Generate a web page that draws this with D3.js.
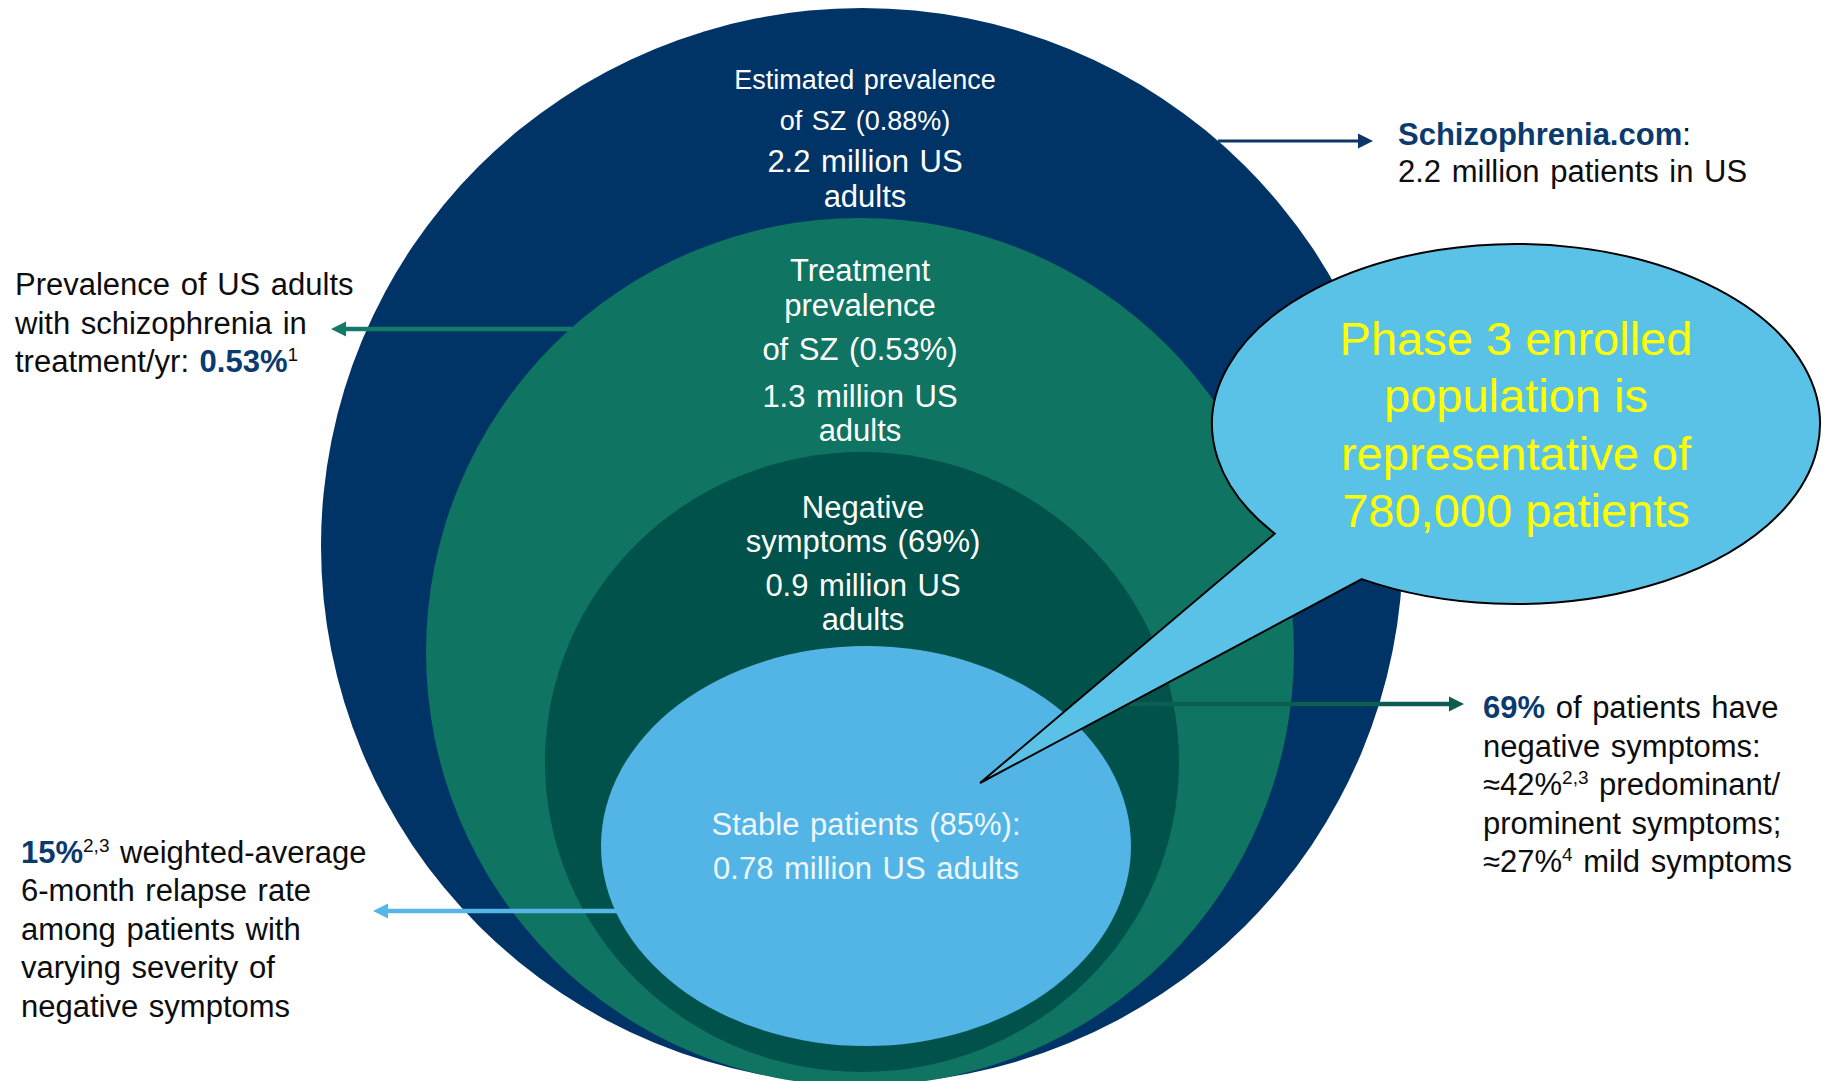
<!DOCTYPE html>
<html>
<head>
<meta charset="utf-8">
<script src="https://cdn.jsdelivr.net/npm/d3@7"></script>
<style>
  html, body { margin: 0; padding: 0; background: #ffffff; }
  svg { display: block; }
  text { font-family: "Liberation Sans", Arial, Helvetica, sans-serif; }
</style>
</head>
<body>
<svg id="chart" width="1825" height="1081"></svg>
<script>
// ---- Data -------------------------------------------------------------
// Nested US adult population tiers, outermost first
const tiers = ["estimated", "treatment", "negative", "stable"];
const tierPercents = ["0.88%", "0.53%", "69%", "85%"];
const tierMillions = [2.2, 1.3, 0.9, 0.78];
const enrolledRepresentative = 780000;

// Text shown inside each tier
const tierLines = [
  ["Estimated prevalence", `of SZ (${tierPercents[0]})`, `${tierMillions[0]} million US`, "adults"],
  ["Treatment", "prevalence", `of SZ (${tierPercents[1]})`, `${tierMillions[1]} million US`, "adults"],
  ["Negative", `symptoms (${tierPercents[2]})`, `${tierMillions[2]} million US`, "adults"],
  [`Stable patients (${tierPercents[3]}):`, `${tierMillions[3]} million US adults`]
];

const calloutLines = ["Phase 3 enrolled", "population is", "representative of",
  `${d3.format(",")(enrolledRepresentative)} patients`];

// Side notes: each line is a list of runs (b = bold highlight, sup = superscript)
const noteTreatment = [
  [{ t: "Prevalence of US adults" }],
  [{ t: "with schizophrenia in" }],
  [{ t: "treatment/yr: " }, { t: "0.53%", b: 1 }, { t: "1", sup: 1 }]
];
const noteSource = [
  [{ t: "Schizophrenia.com", b: 1 }, { t: ":" }],
  [{ t: "2.2 million patients in US" }]
];
const noteNegative = [
  [{ t: "69%", b: 1 }, { t: " of patients have" }],
  [{ t: "negative symptoms:" }],
  [{ t: "\u224842%" }, { t: "2,3", sup: 1 }, { t: " predominant/" }],
  [{ t: "prominent symptoms;" }],
  [{ t: "\u224827%" }, { t: "4", sup: 1 }, { t: " mild symptoms" }]
];
const noteRelapse = [
  [{ t: "15%", b: 1 }, { t: "2,3", sup: 1 }, { t: " weighted-average" }],
  [{ t: "6-month relapse rate" }],
  [{ t: "among patients with" }],
  [{ t: "varying severity of" }],
  [{ t: "negative symptoms" }]
];

// ---- Layout -----------------------------------------------------------
const tierShapes = [
  { cx: 862, cy: 546, rx: 541, ry: 538, lx: 865, base: [89, 130, 172, 207], size: [27, 27, 31, 31] },
  { cx: 860, cy: 652, rx: 434, ry: 434, lx: 860, base: [281, 316, 360, 407, 441], size: [31, 31, 31, 31, 31] },
  { cx: 862, cy: 762, rx: 317, ry: 310, lx: 863, base: [518, 552, 596, 630], size: [31, 31, 31, 31] },
  { cx: 866, cy: 846, rx: 265, ry: 200, lx: 866, base: [835, 879], size: [31, 31] }
];

const tierColor = d3.scaleOrdinal()
  .domain(tiers)
  .range(["#013466", "#0f7462", "#01524a", "#53b5e6"]);
const tierTextColor = d3.scaleOrdinal()
  .domain(tiers)
  .range(["#ffffff", "#ffffff", "#ffffff", "#eef7fc"]);

const arrows = [
  { y: 141, x0: 1218, x1: 1373, color: "#0b3667", w: 3 },
  { y: 329, x0: 572, x1: 331, color: "#137a67", w: 4.5 },
  { y: 704, x0: 1110, x1: 1464, color: "#0d5d50", w: 4.5 },
  { y: 911, x0: 617, x1: 373, color: "#56b7e7", w: 4.5 }
];

const callout = { cx: 1516, cy: 424, rx: 304, ry: 180, a1: 142.5, a2: 120.5, tip: [980, 783] };

const notes = [
  { lines: noteTreatment, x: 15, y0: 295, dy: 38.5 },
  { lines: noteSource, x: 1398, y0: 145, dy: 36.7 },
  { lines: noteNegative, x: 1483, y0: 718, dy: 38.5 },
  { lines: noteRelapse, x: 21, y0: 863, dy: 38.4 }
];

// ---- Drawing ----------------------------------------------------------
const svg = d3.select("#chart");
svg.append("rect").attr("width", 1825).attr("height", 1081).attr("fill", "#ffffff");

// Nested population ellipses
svg.append("g").selectAll("ellipse")
  .data(tiers)
  .join("ellipse")
  .attr("cx", (d, i) => tierShapes[i].cx)
  .attr("cy", (d, i) => tierShapes[i].cy)
  .attr("rx", (d, i) => tierShapes[i].rx)
  .attr("ry", (d, i) => tierShapes[i].ry)
  .attr("fill", d => tierColor(d));

// Leader arrows to the side notes
const arrowG = svg.append("g");
arrows.forEach(a => {
  const dir = Math.sign(a.x1 - a.x0);
  const headLen = 15, headHalf = 7.5;
  arrowG.append("line")
    .attr("x1", a.x0).attr("y1", a.y)
    .attr("x2", a.x1 - dir * (headLen - 2)).attr("y2", a.y)
    .attr("stroke", a.color).attr("stroke-width", a.w);
  const p = d3.path();
  p.moveTo(a.x1, a.y);
  p.lineTo(a.x1 - dir * headLen, a.y - headHalf);
  p.lineTo(a.x1 - dir * headLen, a.y + headHalf);
  p.closePath();
  arrowG.append("path").attr("d", p.toString()).attr("fill", a.color);
});

// Tier labels
const labelG = svg.append("g");
tiers.forEach((tier, i) => {
  const s = tierShapes[i];
  tierLines[i].forEach((line, j) => {
    labelG.append("text")
      .attr("x", s.lx)
      .attr("y", s.base[j])
      .attr("text-anchor", "middle")
      .attr("font-size", s.size[j])
      .attr("word-spacing", 2)
      .attr("fill", tierTextColor(tier))
      .text(line);
  });
});

// Speech-bubble callout with a wedge tail
const rad = deg => deg * Math.PI / 180;
const onCallout = deg => [callout.cx + callout.rx * Math.cos(rad(deg)),
                          callout.cy + callout.ry * Math.sin(rad(deg))];
const p1 = onCallout(callout.a1), p2 = onCallout(callout.a2);
const bubbleD = `M${p1[0]},${p1[1]} A${callout.rx},${callout.ry} 0 1 1 ${p2[0]},${p2[1]}` +
  ` L${callout.tip[0]},${callout.tip[1]} Z`;
svg.append("path")
  .attr("d", bubbleD)
  .attr("fill", "#5bc2e7")
  .attr("stroke", "#000000")
  .attr("stroke-width", 2)
  .attr("stroke-linejoin", "miter");

svg.append("g").selectAll("text")
  .data(calloutLines)
  .join("text")
  .attr("x", callout.cx)
  .attr("y", (d, i) => 355 + i * 57.3)
  .attr("text-anchor", "middle")
  .attr("font-size", 47)
  .attr("fill", "#ffff00")
  .text(d => d);

// Side notes with bold highlights and superscript references
const noteG = svg.append("g");
notes.forEach(n => {
  n.lines.forEach((runs, j) => {
    const t = noteG.append("text")
      .attr("x", n.x)
      .attr("y", n.y0 + j * n.dy)
      .attr("font-size", 31)
      .attr("word-spacing", 2)
      .attr("fill", "#0d0d0d");
    let raised = false;
    runs.forEach(r => {
      const ts = t.append("tspan").text(r.t);
      if (r.b) ts.attr("font-weight", "bold").attr("fill", "#0a3a6e");
      if (r.sup) {
        ts.attr("font-size", 19).attr("dy", -11);
        raised = true;
      } else if (raised) {
        ts.attr("dy", 11);
        raised = false;
      }
    });
  });
});
</script>
</body>
</html>
